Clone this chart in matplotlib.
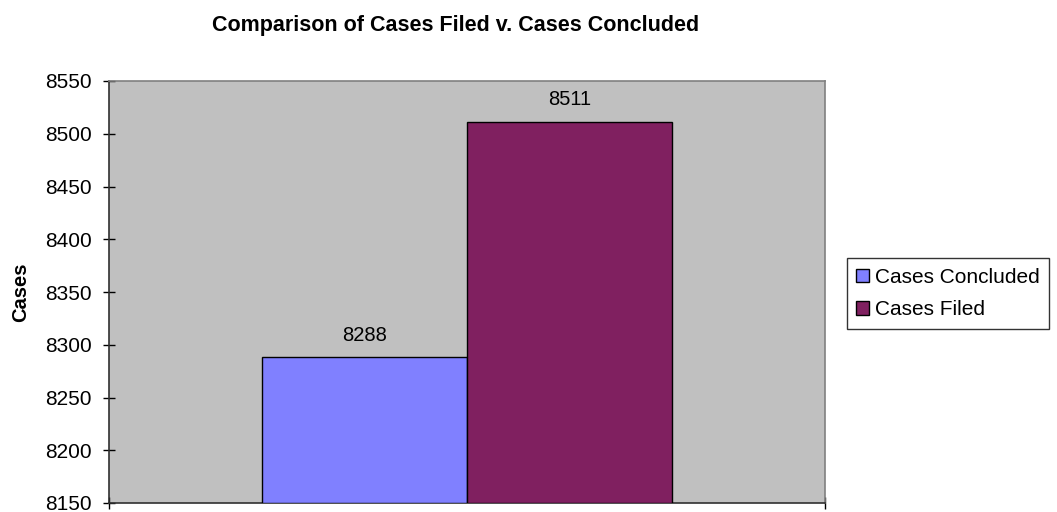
import matplotlib
matplotlib.use("Agg")
import matplotlib.pyplot as plt

series = ["Cases Concluded", "Cases Filed"]
values = [8288, 8511]
colors = ["#8080FF", "#802060"]
yticks = [8150, 8200, 8250, 8300, 8350, 8400, 8450, 8500, 8550]

plt.rcParams["font.family"] = ["Liberation Sans", "DejaVu Sans"]

W, H = 1057, 512
fig = plt.figure(figsize=(W / 100, H / 100), dpi=100)
ax = fig.add_axes([109 / W, (H - 503) / H, 716 / W, 422 / H])
ax.set_facecolor("#C0C0C0")

bar_w = 0.286
offsets = [-bar_w / 2, bar_w / 2]
for name, val, col, off in zip(series, values, colors, offsets):
    ax.bar(off, val - yticks[0], bottom=yticks[0], width=bar_w, color=col,
           edgecolor="black", linewidth=1.0, label=name, zorder=3)
    ax.text(off, val + 12, str(val), ha="center", va="bottom", fontsize=14.5)

ax.set_xlim(-0.5, 0.5)
ax.set_ylim(yticks[0], yticks[-1])
ax.set_yticks(yticks)
ax.set_xticks([-0.5, 0.5])
ax.set_xticklabels([])
ax.tick_params(axis="y", direction="inout", length=8.6, width=1, labelsize=15, pad=8)
ax.tick_params(axis="x", direction="inout", length=8.6, width=1)

for side in ("left", "bottom"):
    ax.spines[side].set_color("#303030")
    ax.spines[side].set_linewidth(1.2)
for side in ("top", "right"):
    ax.spines[side].set_color("#808080")
    ax.spines[side].set_linewidth(1.2)

ax.set_ylabel("Cases", fontsize=14.5, fontweight="bold", labelpad=11)

fig.text(456 / W, 1 - 25 / H, "Comparison of Cases Filed v. Cases Concluded",
         ha="center", va="center", fontsize=15.5, fontweight="bold")

leg = ax.legend(loc="center left", bbox_to_anchor=(847 / W, 1 - 293.5 / H),
                bbox_transform=fig.transFigure, fontsize=15, frameon=True,
                fancybox=False, edgecolor="black", handlelength=0.6,
                handleheight=0.6, handletextpad=0.3, borderpad=0.45,
                labelspacing=0.65, borderaxespad=0)
leg.get_frame().set_linewidth(1.0)

fig.savefig("out.png", dpi=100)
